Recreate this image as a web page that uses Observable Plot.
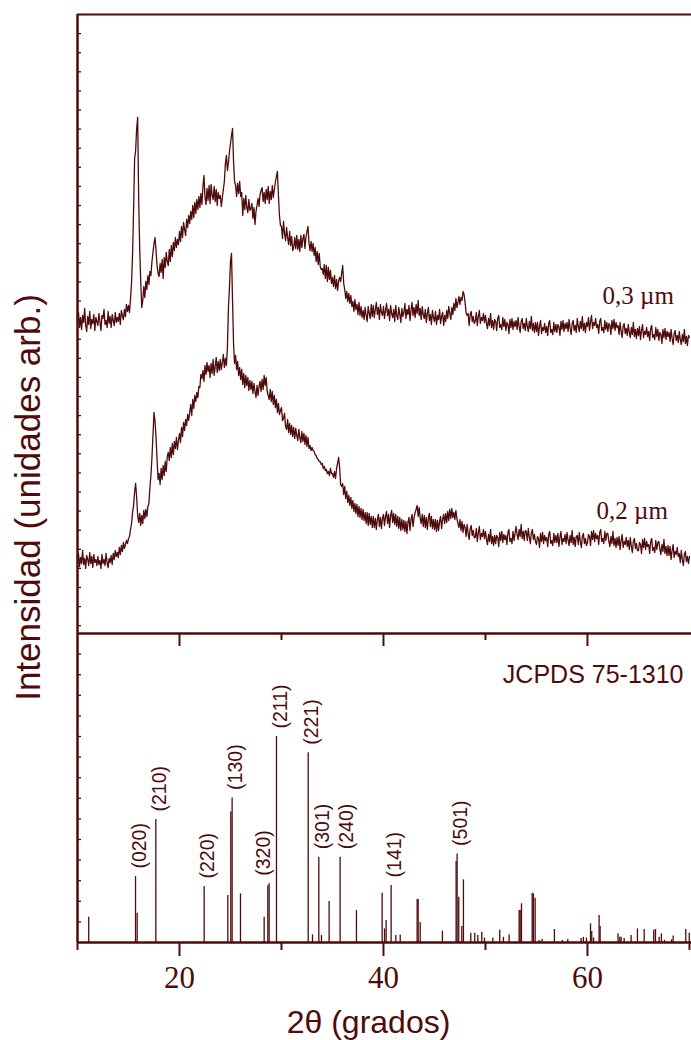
<!DOCTYPE html>
<html><head><meta charset="utf-8">
<script src="https://cdn.jsdelivr.net/npm/d3@7"></script>
<script src="https://cdn.jsdelivr.net/npm/@observablehq/plot@0.6"></script>
<style>
html,body{margin:0;padding:0;background:#fff;}
#chart{position:relative;width:691px;height:1040px;overflow:hidden;background:#fff;}
#chart svg{position:absolute;left:0;top:0;}
</style></head><body><div id="chart"></div>
<script>
// 2θ sampling of the measured scans
const twoThetaStart = 10, twoThetaStep = 0.1;

// sample 0,3 µm (upper pattern), arbitrary intensity units
const intensity03 = [
313,321,306,316,304,318,311,325,308,302,
317,309,322,305,314,310,319,303,316,312,
308,320,312,303,318,315,324,309,313,306,
322,310,317,306,319,313,308,321,311,316,
312,320,309,323,318,314,324,317,329,322,
328,321,335,351,380,423,475,483,505,516,
433,385,352,326,333,347,336,352,344,358,
349,362,358,372,381,390,396,383,368,360,
357,370,361,374,355,376,366,381,372,368,
384,372,388,377,391,383,396,386,394,389,
402,392,407,396,411,404,398,414,406,418,
410,422,414,428,416,431,420,434,424,437,
426,440,429,447,458,436,429,445,433,448,
430,449,438,434,447,432,444,428,441,435,
438,427,436,444,452,470,478,463,471,482,
490,498,505,472,452,448,437,450,440,452,
437,441,418,435,424,438,426,421,434,423,
425,430,415,426,409,422,428,435,427,439,
443,446,432,441,430,444,434,447,430,442,
434,448,436,444,451,457,462,438,418,408,
407,395,412,400,393,406,396,389,402,388,
397,383,386,396,385,398,384,394,382,398,
386,395,399,385,396,402,407,390,383,392,
382,390,378,386,372,382,369,380,367,364,
365,359,369,355,368,352,366,354,363,350,
356,347,358,345,354,343,352,356,352,360,
368,350,344,335,342,332,340,330,338,327,
332,322,334,324,329,319,331,318,327,316,
323,314,326,318,312,327,320,315,329,317,
328,316,324,331,319,326,314,329,321,318,
327,315,323,330,318,324,313,328,320,316,
324,312,328,318,314,326,319,311,325,317,
321,330,315,324,319,328,313,323,331,318,
326,316,329,320,333,318,325,314,327,319,
315,324,311,320,326,313,319,309,323,316,
312,322,309,318,314,324,310,317,321,308,
318,312,323,315,327,320,314,326,319,330,
323,335,326,331,337,329,336,333,342,339,
331,321,318,320,308,319,322,312,317,310,
312,321,308,317,323,310,316,313,320,311,
318,310,305,315,308,320,306,313,304,314,
312,303,315,318,306,309,304,316,307,314,
303,311,309,300,314,306,315,304,312,307,
313,304,316,307,301,312,315,305,310,303,
315,307,302,312,305,317,303,310,301,311,
302,311,298,307,313,300,306,303,310,301,
307,298,310,313,301,304,299,311,302,309,
301,309,307,298,312,304,313,302,310,305,
311,302,314,305,299,310,313,303,308,301,
315,307,302,312,305,317,303,310,301,311,
307,316,303,312,318,305,311,308,315,306,
309,300,312,315,303,306,301,313,304,311,
302,310,308,299,313,305,314,303,311,306,
308,299,311,302,296,307,310,300,305,298,
309,301,296,306,299,311,297,304,295,305,
298,307,294,303,309,296,302,299,306,297,
302,293,305,308,296,299,294,306,297,304,
293,301,299,290,304,296,305,294,302,297,
301,292,304,295,289,300,303,293,298,291,
302,294,289,299,292,304,290,297,288,298,
296];

// sample 0,2 µm (lower pattern)
const intensity02 = [
72,80,67,76,70,83,69,75,65,78,
74,68,81,70,77,66,79,71,74,68,
77,69,73,65,79,70,74,68,80,71,
66,75,71,78,69,80,74,83,77,81,
76,86,79,88,82,91,85,89,93,90,
95,97,104,110,121,128,142,150,136,118,
111,120,108,118,110,123,115,124,117,127,
130,146,158,176,198,221,212,196,174,154,
160,149,165,154,168,158,172,162,177,181,
173,186,176,190,179,192,185,196,184,193,
200,191,206,197,211,203,214,208,219,213,
221,229,218,234,225,238,232,241,236,247,
246,259,255,263,252,268,259,271,262,268,
256,270,260,274,258,267,276,261,272,263,
274,264,271,279,266,275,268,286,326,346,
372,380,333,290,270,278,264,272,258,266,
254,264,249,260,246,258,248,256,243,253,
244,252,240,250,242,236,248,238,247,252,
242,254,244,258,248,256,242,238,234,244,
232,242,229,238,226,234,221,230,219,223,
226,213,215,220,207,204,214,201,210,199,
208,197,206,195,205,198,193,204,196,191,
202,192,200,189,198,187,196,185,188,183,
186,183,182,179,178,175,174,172,172,169,
170,165,167,163,164,160,162,158,165,160,
160,156,162,155,165,170,176,166,149,147,
150,139,147,135,142,131,138,128,136,125,
133,122,130,120,129,117,127,116,125,114,
124,113,121,110,121,108,120,109,117,106,
117,106,115,104,114,119,107,116,105,115,
119,108,117,122,110,119,106,118,123,111,
120,109,119,107,117,105,116,103,114,104,
113,102,112,100,111,116,103,114,119,107,
116,121,124,128,117,126,115,110,119,107,
118,106,116,104,115,120,107,117,105,114,
104,114,102,113,103,112,117,105,114,119,
110,120,111,122,113,124,115,125,116,121,
114,123,115,110,106,114,103,112,101,109,
106,97,109,100,94,105,108,98,103,96,
96,105,92,101,107,94,100,97,104,95,
102,94,89,99,92,104,90,97,88,98,
90,98,96,87,101,93,102,91,99,94,
98,89,101,104,92,95,90,102,93,100,
107,99,94,104,97,109,95,102,93,103,
102,93,105,96,90,101,104,94,99,92,
89,97,95,86,100,92,101,90,98,93,
96,87,99,102,90,93,88,100,91,98,
91,100,87,96,102,89,95,92,99,90,
101,93,88,98,91,103,89,96,87,97,
98,89,101,92,86,97,100,90,95,88,
91,99,97,88,102,94,103,92,100,95,
98,89,101,104,92,95,90,102,93,100,
100,92,87,97,90,102,88,95,86,96,
88,97,84,93,99,86,92,89,96,87,
93,84,96,87,81,92,95,85,90,83,
83,91,89,80,94,86,95,84,92,87,
89,80,92,95,83,86,81,93,84,91,
92,84,79,89,82,94,80,87,78,88,
78,87,74,83,89,76,82,79,86,77,
80,71,83,74,68,79,82,72,77,70,
77];

const seriesLabels = ["0,3 µm", "0,2 µm"];

// JCPDS 75-1310 reference pattern: 2θ, relative intensity, hkl
const refPos = [11.1,15.69,15.85,17.68,22.42,24.74,25.03,25.16,25.98,28.30,28.66,28.79,29.51,32.62,33.04,33.66,33.92,34.67,35.75,37.35,
39.87,40.10,40.26,40.75,41.21,41.64,43.30,43.40,43.60,45.78,47.12,47.22,47.38,47.68,47.84,48.56,48.95,49.25,49.64,49.90,
50.72,51.40,51.76,52.32,53.30,53.40,53.53,54.58,54.70,54.87,55.26,55.55,56.76,57.54,58.07,59.38,59.60,59.90,60.30,60.42,
60.60,61.14,61.24,63.00,63.17,63.30,63.60,64.28,64.90,65.56,66.50,66.67,67.03,67.25,67.55,68.24,68.40,69.64,69.98];
const refInt = [12.3,32,14.2,59.7,27.2,22.8,63.4,70.2,23.6,12.3,27.5,28.5,100,92.1,3.7,41.4,3.4,19.9,41.4,15.5,
23.9,6.6,10.7,27.7,3.4,3.7,20.9,20.9,9.7,5.5,39.3,43,22,7.8,30.4,4.5,4.5,3.4,5,2.2,
2.2,6,2.5,3.7,15.5,15.5,18.8,23.9,23.6,21.5,1,1.5,6.3,1,1.5,2,2.5,2.2,9.1,5.3,
2.2,13.1,7.8,4.2,2.5,2.5,2,3.4,6.6,6.3,6,6.3,2.5,4.2,1,1.3,3.1,6.3,4.5];
const refHKL = [null,"(020)",null,"(210)","(220)",null,null,"(130)",null,null,null,"(320)","(211)","(221)",null,"(301)",null,null,"(240)",null,
null,null,null,"(141)",null,null,null,null,null,null,null,"(501)"];

const xTicksMajor = [20, 40, 60];
const xTicksMinor = [10, 30, 50, 70];
const refName = "JCPDS 75-1310";
const xLabel = "2θ (grados)";
const yLabel = "Intensidad (unidades arb.)";

// ---- build tables ----
const scan03 = intensity03.map((v, i) => ({t: twoThetaStart + i * twoThetaStep, I: v}));
const scan02 = intensity02.map((v, i) => ({t: twoThetaStart + i * twoThetaStep, I: v}));
const refs = refPos.map((p, i) => ({pos: p, int: refInt[i], hkl: refHKL[i] || null}));

const C = "#4f0b0b";
const W = 691, H = 1040;
const sans = "'Liberation Sans', Arial, sans-serif";
const serif = "'Liberation Serif', 'Times New Roman', serif";

const topPlot = Plot.plot({
  width: W, height: H,
  marginLeft: 77, marginRight: 0, marginTop: 14, marginBottom: 407,
  x: {domain: [10, 70.2], axis: null, label: null},
  y: {domain: [0, 619], axis: null, label: null},
  style: {background: "transparent", overflow: "visible"},
  marks: [
    Plot.line(scan03, {x: "t", y: "I", stroke: C, strokeWidth: 1.3}),
    Plot.line(scan02, {x: "t", y: "I", stroke: C, strokeWidth: 1.3}),
    Plot.ruleY([619], {stroke: C, strokeWidth: 2}),
    Plot.tickY(d3.range(619 - 19.1, 1, -19.1), {y: d => d, stroke: C, strokeWidth: 1.3, insetRight: 610}),
    Plot.ruleX([10], {stroke: C, strokeWidth: 2.5}),
    Plot.text([seriesLabels[0]], {text: d => d, frameAnchor: "top-left", dx: 525, dy: 289,
      textAnchor: "start", lineAnchor: "bottom", fontFamily: serif, fontSize: 25, fill: C}),
    Plot.text([seriesLabels[1]], {text: d => d, frameAnchor: "top-left", dx: 519, dy: 504,
      textAnchor: "start", lineAnchor: "bottom", fontFamily: serif, fontSize: 25, fill: C}),
    Plot.text([yLabel], {text: d => d, frameAnchor: "top-left", dx: -38, dy: 483, rotate: -90,
      textAnchor: "middle", lineAnchor: "bottom", fontFamily: sans, fontSize: 35, fill: C})
  ]
});

const hklStyle = {x: "pos", y: "int", text: "hkl", rotate: -90, textAnchor: "start", lineAnchor: "middle",
  dy: -8, fontFamily: sans, fontSize: 19.5, fill: C};

const bottomPlot = Plot.plot({
  width: W, height: H,
  marginLeft: 77, marginRight: 0, marginTop: 633, marginBottom: 98,
  x: {domain: [10, 70.2], axis: null, label: null},
  y: {domain: [0, 150], axis: null, label: null},
  style: {background: "transparent", overflow: "visible"},
  marks: [
    Plot.ruleX(refs, {x: "pos", y1: 0, y2: "int", stroke: C, strokeWidth: 1.3}),
    Plot.text(refs.filter(d => d.hkl && d.hkl !== "(320)" && d.hkl !== "(240)"), {...hklStyle, dx: 4}),
    Plot.text(refs.filter(d => d.hkl === "(320)"), {...hklStyle, dx: -5}),
    Plot.text(refs.filter(d => d.hkl === "(240)"), {...hklStyle, dx: 7}),
    Plot.ruleY([150], {stroke: C, strokeWidth: 2.5}),
    Plot.ruleY([0], {stroke: C, strokeWidth: 2.5}),
    Plot.ruleX([10], {stroke: C, strokeWidth: 2.5}),
    Plot.tickY(d3.range(10, 150, 10), {y: d => d, stroke: C, strokeWidth: 1.3, insetRight: 610}),
    Plot.tickX(xTicksMajor, {x: d => d, stroke: C, strokeWidth: 2, insetBottom: 296}),
    Plot.tickX([30, 50], {x: d => d, stroke: C, strokeWidth: 2, insetBottom: 302}),
    Plot.axisX(xTicksMajor, {anchor: "bottom", tickSize: 14, tickPadding: 9, strokeWidth: 2,
      fontFamily: serif, fontSize: 31, color: C, label: null}),
    Plot.axisX(xTicksMinor, {anchor: "bottom", tickSize: 8, tickFormat: () => "", strokeWidth: 2, color: C, label: null}),
    Plot.text([xLabel], {text: d => d, frameAnchor: "bottom", dx: -16, dy: 90,
      textAnchor: "middle", lineAnchor: "bottom", fontFamily: sans, fontSize: 32, fill: C}),
    Plot.text([refName], {text: d => d, frameAnchor: "top-right", dx: -8, dy: 49,
      textAnchor: "end", lineAnchor: "bottom", fontFamily: sans, fontSize: 25, fill: C})
  ]
});

const chart = document.getElementById("chart");
chart.appendChild(topPlot);
chart.appendChild(bottomPlot);
</script>
</body></html>
